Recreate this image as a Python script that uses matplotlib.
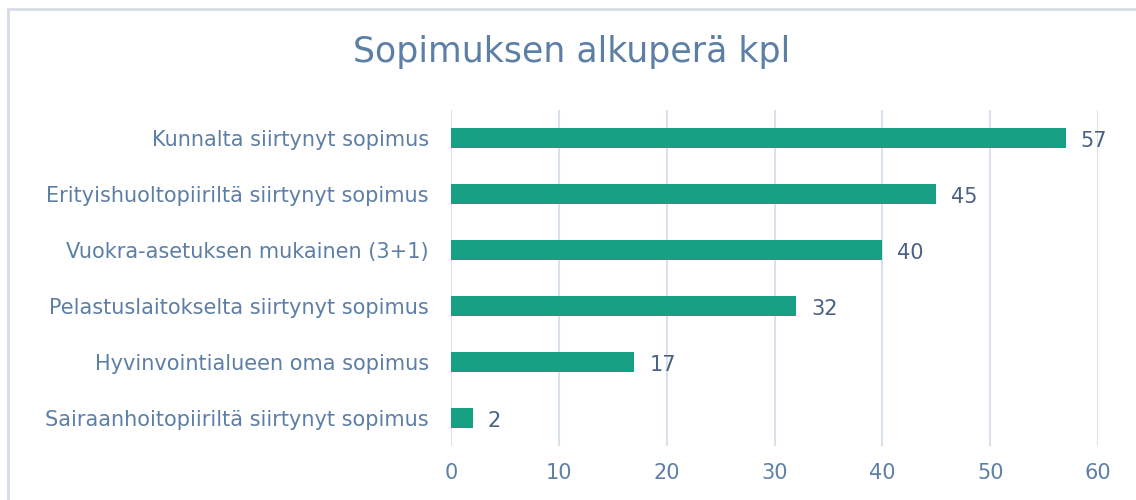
import matplotlib.pyplot as plt
from matplotlib.patches import Rectangle

# Data
categories = [
    "Kunnalta siirtynyt sopimus",
    "Erityishuoltopiiriltä siirtynyt sopimus",
    "Vuokra-asetuksen mukainen (3+1)",
    "Pelastuslaitokselta siirtynyt sopimus",
    "Hyvinvointialueen oma sopimus",
    "Sairaanhoitopiiriltä siirtynyt sopimus",
]
values = [57, 45, 40, 32, 17, 2]
xticks = [0, 10, 20, 30, 40, 50, 60]

BAR_COLOR = "#17a084"
LABEL_COLOR = "#5d7fa6"
VALUE_COLOR = "#4a6282"
GRID_COLOR = "#d9e1ea"

plt.rcParams["font.family"] = ["DejaVu Sans"]

fig = plt.figure(figsize=(11.36, 5.0), dpi=100)
fig.patches.append(Rectangle((8 / 1136, -0.1), 1.2, (500 - 9) / 500 + 0.1,
                             transform=fig.transFigure, fill=False,
                             edgecolor="#d6dde6", linewidth=2))

ax = fig.add_axes([451 / 1136, 54 / 500, 647 / 1136, 336 / 500])
y = list(range(len(categories)))
ax.barh(y, values, height=0.36, color=BAR_COLOR, zorder=2)
for yi, v in zip(y, values):
    ax.text(v + 1.4, yi + 0.06, str(v), va="center", ha="left",
            fontsize=15, color=VALUE_COLOR)

ax.set_yticks(y)
ax.set_yticklabels(categories, fontsize=15, color=LABEL_COLOR)
ax.set_ylim(len(categories) - 0.5, -0.5)
ax.set_xlim(0, 60)
ax.set_xticks(xticks)
ax.set_xticklabels([str(t) for t in xticks], fontsize=15, color=LABEL_COLOR)
ax.tick_params(axis="both", length=0)
ax.tick_params(axis="x", pad=12)
ax.tick_params(axis="y", pad=16)
ax.grid(axis="x", color=GRID_COLOR, linewidth=1.5, zorder=0)
for s in ax.spines.values():
    s.set_visible(False)

fig.text(572 / 1136, 1 - 52 / 500, "Sopimuksen alkuperä kpl", ha="center",
         va="center", fontsize=25, color=LABEL_COLOR)

fig.savefig("out.png", dpi=100)
